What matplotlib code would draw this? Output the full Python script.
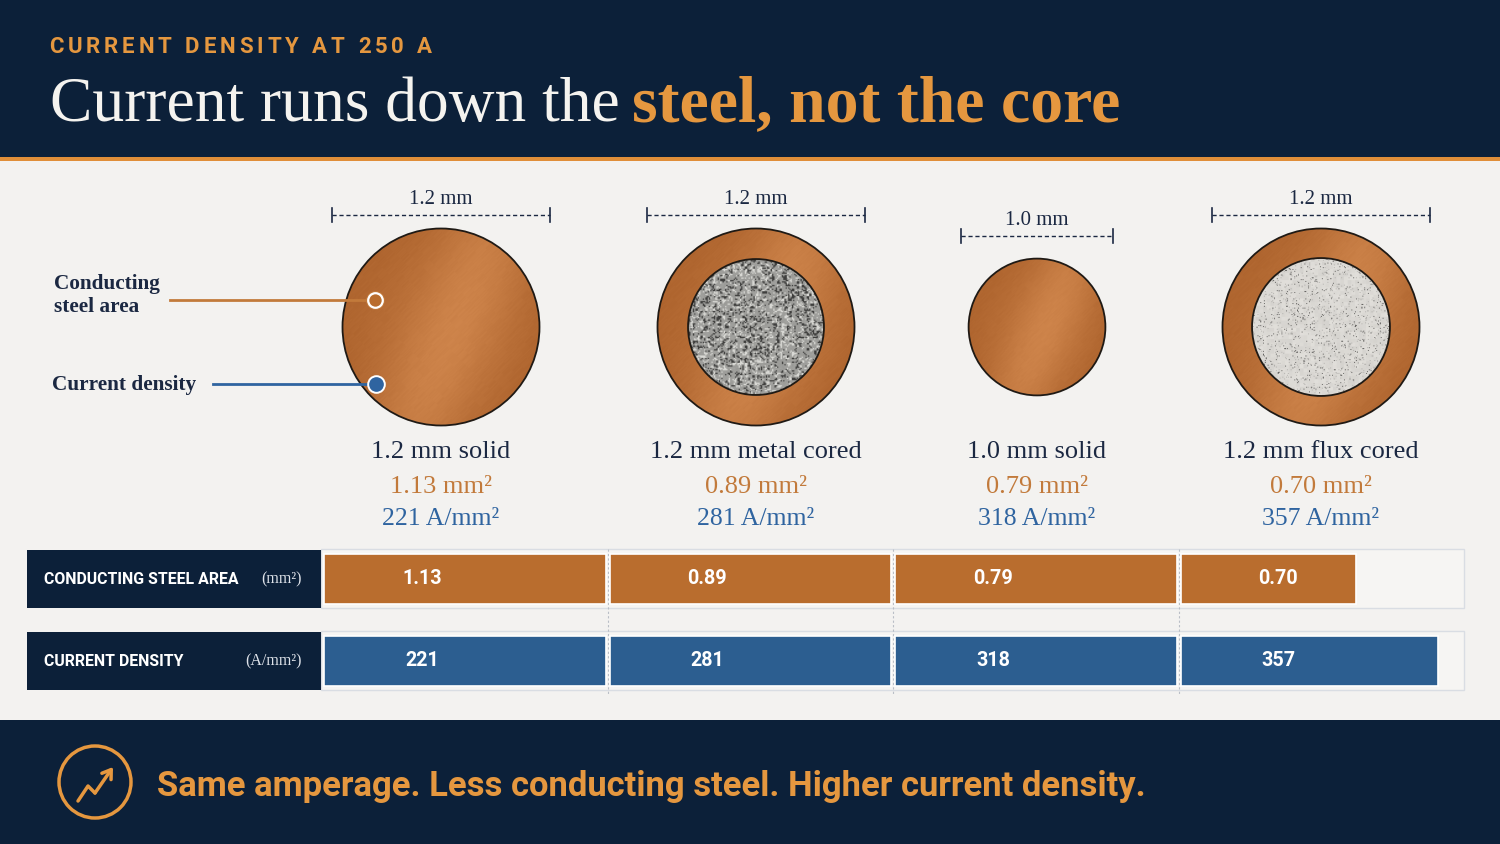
import numpy as np
import matplotlib
matplotlib.use("Agg")
import matplotlib.pyplot as plt
from matplotlib.patches import Circle, Rectangle
from matplotlib import font_manager as fm

# data
wire_names = ["1.2 mm solid", "1.2 mm metal cored", "1.0 mm solid", "1.2 mm flux cored"]
wire_diameter = [1.2, 1.2, 1.0, 1.2]        # mm
steel_area = [1.13, 0.89, 0.79, 0.70]       # mm²
current_density = [221, 281, 318, 357]      # A/mm²
core_kind = ["none", "metal", "none", "flux"]
core_fraction = [0.0, 0.69, 0.0, 0.70]      # core diameter / wire diameter as drawn
amperage = 250

# colours
NAVY = "#0c2039"
BODY = "#f3f2f0"
ORANGE = "#e5973f"
COPPER = "#b96d2e"
BLUE = "#2c5e90"
TXT_NAVY = "#1b2842"
TXT_ORANGE = "#c27a3b"
TXT_BLUE = "#2f64a0"

names = {f.name for f in fm.fontManager.ttflist}
SERIF = "Liberation Serif" if "Liberation Serif" in names else "DejaVu Serif"
NARROW = "Liberation Sans Narrow" if "Liberation Sans Narrow" in names else "Roboto"
SANS = "Roboto" if "Roboto" in names else "DejaVu Sans"

fig = plt.figure(figsize=(15, 8.44), dpi=100, facecolor=BODY)
ax = fig.add_axes([0, 0, 1, 1])
ax.set_autoscale_on(False)
ax.set_xlim(0, 1500)
ax.set_ylim(844, 0)
ax.axis("off")
R = fig.canvas.get_renderer()


def width_of(t):
    return t.get_window_extent(R).width


def fit_text(x, y, s, width, **kw):
    t = ax.text(x, y, s, **kw)
    t.set_fontsize(t.get_fontsize() * width / width_of(t))
    return t


def tracked_text(x, y, s, width, **kw):
    p = ax.text(0, 0, "AA", **kw); w_aa = width_of(p); p.remove()
    p = ax.text(0, 0, "A A", **kw); w_sp = width_of(p) - w_aa; p.remove()
    parts = []
    for ch in s:
        if ch == " ":
            parts.append((None, w_sp))
        else:
            t = ax.text(0, y, ch, **kw)
            parts.append((t, width_of(t)))
    track = (width - sum(w for _, w in parts)) / (len(s) - 1)
    for t, w in parts:
        if t is not None:
            t.set_x(x)
        x += w + track


def hash2(a, b):
    v = np.sin(a * 12.9898 + b * 78.233) * 43758.5453
    return v - np.floor(v)


def copper_texture(n=260):
    u = np.linspace(-1, 1, n)
    X, Y = np.meshgrid(u, u)
    I, J = np.meshgrid(np.arange(n), np.arange(n))
    sheen = np.exp(-((0.85 * X + 0.35 * Y - 0.12) ** 2) / 0.22)
    streak = hash2(np.floor((I + J) * 0.8), np.floor((I - J) / 18.0)) - 0.5
    s = 0.26 + 0.5 * sheen + 0.10 * streak - 0.12 * (X ** 2 + Y ** 2)
    s = np.clip(s, 0, 1)[..., None]
    dark = np.array([0.66, 0.37, 0.16])
    light = np.array([0.85, 0.56, 0.33])
    return dark + (light - dark) * s


def metal_texture(n=110):
    I, J = np.meshgrid(np.arange(n), np.arange(n))
    h1 = hash2(I, J)
    h2 = hash2(np.floor(I / 2), np.floor(J / 2) + 300)
    h3 = hash2(np.floor(I / 3) + 50, np.floor(J / 3))
    m = 0.35 * h1 + 0.4 * h2 + 0.25 * h3
    g = 0.62 + 0.12 * (m - 0.5)
    g = np.where(m < 0.34, 0.25, g)
    g = np.where(m > 0.68, 0.85, g)
    return np.dstack([g, g, g * 0.98])


def flux_texture(n=150):
    I, J = np.meshgrid(np.arange(n), np.arange(n))
    h1 = hash2(I + 7, J + 11)
    h2 = hash2(np.floor(I / 4), np.floor(J / 4) + 99)
    g = 0.86 + 0.05 * (h2 - 0.5)
    g = np.where(h1 < 0.03, 0.33, g)
    g = np.where((h1 >= 0.03) & (h1 < 0.07), 0.68, g)
    return np.dstack([g, g * 0.99, g * 0.97])


def draw_disc(cx, cy, r, img):
    clip = Circle((cx, cy), r, transform=ax.transData)
    im = ax.imshow(img, extent=(cx - r, cx + r, cy + r, cy - r), origin="upper",
                   aspect="auto", interpolation="bilinear", zorder=3)
    im.set_clip_path(clip)
    ax.add_patch(Circle((cx, cy), r, fill=False, ec="#1f1a15", lw=1.3, zorder=4))


# header
ax.add_patch(Rectangle((0, 0), 1500, 157, fc=NAVY, ec="none", zorder=1))
ax.add_patch(Rectangle((0, 157), 1500, 3.5, fc="#e08e39", ec="none", zorder=1))
tracked_text(49, 53, f"CURRENT DENSITY AT {amperage} A", 383, color=ORANGE,
             fontsize=16, fontweight="bold", family=SANS, va="baseline", zorder=3)
fit_text(50, 121, "Current runs down the", 570, color="#f5f3ef", family=SERIF,
         fontsize=45, va="baseline", zorder=3)
fit_text(632, 121, "steel, not the core", 488, color=ORANGE, family=SERIF, fontweight="bold",
         fontsize=45, va="baseline", zorder=3)

# wire cross sections
col_x = [441, 756, 1037, 1321]
disc_y = 327
px_per_mm2 = 197 / 1.2 ** 2
r_max = px_per_mm2 * max(wire_diameter) ** 2 / 2
cu_img = copper_texture()
core_imgs = {"metal": metal_texture(), "flux": flux_texture()}

for i in range(4):
    cx = col_x[i]
    r = px_per_mm2 * wire_diameter[i] ** 2 / 2
    draw_disc(cx, disc_y, r, cu_img)
    if core_kind[i] != "none":
        draw_disc(cx, disc_y, r * core_fraction[i], core_imgs[core_kind[i]])

    half = r * 1.1 + 1
    yd = disc_y - r - 14 - 0.27 * (r_max - r)
    ax.plot([cx - half, cx + half], [yd, yd], ls=(0, (3, 2)), color=TXT_NAVY, lw=1)
    for xe in (cx - half, cx + half):
        ax.plot([xe, xe], [yd - 7, yd + 7], color=TXT_NAVY, lw=1.2)
    ax.text(cx, yd - 11, f"{wire_diameter[i]:.1f} mm", ha="center", va="baseline",
            family=SERIF, fontsize=15, color=TXT_NAVY)

    ax.text(cx, 458, wire_names[i], ha="center", va="baseline", family=SERIF,
            fontsize=19, color=TXT_NAVY)
    ax.text(cx, 493, f"{steel_area[i]:.2f} mm²", ha="center", va="baseline", family=SERIF,
            fontsize=19, color=TXT_ORANGE)
    ax.text(cx, 525, f"{current_density[i]} A/mm²", ha="center", va="baseline", family=SERIF,
            fontsize=18.5, color=TXT_BLUE)

# callouts on the left
ax.text(54, 289, "Conducting", family=SERIF, fontweight="bold", fontsize=15.3, color=TXT_NAVY, va="baseline")
ax.text(54, 312, "steel area", family=SERIF, fontweight="bold", fontsize=15.3, color=TXT_NAVY, va="baseline")
ax.text(52, 390, "Current density", family=SERIF, fontweight="bold", fontsize=15.3, color=TXT_NAVY, va="baseline")
ax.plot([170, 368], [300, 300], color=TXT_ORANGE, lw=2, zorder=5)
ax.plot(375, 300, "o", ms=12.5, mfc="none", mec=TXT_ORANGE, mew=1, zorder=6)
ax.plot(375, 300, "o", ms=10.5, mfc=COPPER, mec="white", mew=1.6, zorder=6)
ax.plot([213, 370], [384, 384], color=TXT_BLUE, lw=2, zorder=5)
ax.plot(376, 384, "o", ms=12, mfc=TXT_BLUE, mec="white", mew=1.4, zorder=6)

# comparison bars
rows_y = [579, 661]
row_labels = ["CONDUCTING STEEL AREA", "CURRENT DENSITY"]
row_units = ["(mm²)", "(A/mm²)"]
for yc in rows_y:
    ax.add_patch(Rectangle((27, yc - 29), 294, 58, fc=NAVY, ec="none", zorder=2))
    ax.add_patch(Rectangle((321, yc - 30), 1143, 59, fc="#f6f5f3", ec="#d9dde3", lw=1, zorder=1))

lab = fit_text(44, rows_y[0], row_labels[0], 195, color="white", family=NARROW,
               fontweight="bold", fontsize=11, va="center", zorder=3)
ax.text(44, rows_y[1], row_labels[1], color="white", family=NARROW, fontweight="bold",
        fontsize=lab.get_fontsize(), va="center", zorder=3)
for yc, u in zip(rows_y, row_units):
    ax.text(302, yc, u, color="#dfe3ea", family=SERIF, fontsize=11.5, ha="right",
            va="center", zorder=3)

bax = fig.add_axes([322 / 1500, 0, (1464 - 322) / 1500, 1])
bax.set_xlim(0, 4)
bax.set_ylim(844, 0)
bax.axis("off")
bax.vlines([1, 2, 3], 549, 695, colors="#b9bec6", linestyles=(0, (2, 2)), lw=0.8, zorder=1)

last_fill = [0.63, 0.915]
gap = 2 / 285.5
series = [(steel_area, COPPER, "{:.2f}"), (current_density, BLUE, "{}")]
val_size = None
for row, (vals, color, fmt) in enumerate(series):
    yc = rows_y[row]
    fills = np.array([1, 1, 1, last_fill[row]])
    bax.barh(yc, fills - 2 * gap, left=np.arange(4) + gap, height=50, color=color,
             ec="white", lw=1.2, zorder=3)
    for i, v in enumerate(vals):
        t = bax.text(i + 0.35, yc, fmt.format(v), color="white", family=NARROW,
                     fontweight="bold", fontsize=15, ha="center", va="center", zorder=4)
        if val_size is None:
            t.set_fontsize(15 * 40 / width_of(t))
            val_size = t.get_fontsize()
        else:
            t.set_fontsize(val_size)

# footer
ax.add_patch(Rectangle((0, 720), 1500, 124, fc=NAVY, ec="none", zorder=1))
ax.add_patch(Circle((95, 782), 36, fill=False, ec=ORANGE, lw=2.5, zorder=3))
ax.plot([78, 88, 95], [801, 786, 793], color=ORANGE, lw=2.5, solid_capstyle="round", zorder=3)
ax.annotate("", xy=(113, 767), xytext=(95, 793),
            arrowprops=dict(arrowstyle="->,head_length=0.6,head_width=0.4", color=ORANGE,
                            lw=2.5, shrinkA=0, shrinkB=0), zorder=3)
fit_text(157, 796, "Same amperage. Less conducting steel. Higher current density.", 988,
         color=ORANGE, family=NARROW, fontweight="bold", fontsize=22, va="baseline", zorder=3)

ax.set_xlim(0, 1500)
ax.set_ylim(844, 0)
fig.savefig("out.png", dpi=100, facecolor=BODY)
